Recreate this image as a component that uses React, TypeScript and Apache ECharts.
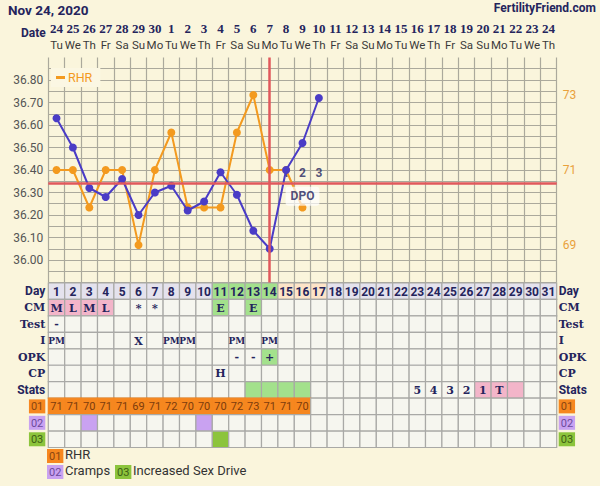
import React, { useEffect, useRef } from 'react';
import * as echarts from 'echarts';

const NAVY = '#24245c';
const BG = '#faf5dc';
const GRID = '#aba99c';
const PURPLE = '#4a3cc6';
const ORANGE = '#f39a1f';
const RED = '#e0585c';

const dayCategories = ['1','2','3','4','5','6','7','8','9','10','11','12','13','14','15','16','17','18','19','20','21','22','23','24','25','26','27','28','29','30','31'];
const dateLabels = ['24','25','26','27','28','29','30','1','2','3','4','5','6','7','8','9','10','11','12','13','14','15','16','17','18','19','20','21','22','23','24'];
const weekdayLabels = ['Tu','We','Th','Fr','Sa','Su','Mo','Tu','We','Th','Fr','Sa','Su','Mo','Tu','We','Th','Fr','Sa','Su','Mo','Tu','We','Th','Fr','Sa','Su','Mo','Tu','We','Th'];

const temps = [36.63, 36.50, 36.32, 36.28, 36.36, 36.20, 36.30, 36.33, 36.22, 36.26, 36.39, 36.29, 36.13, 36.05, 36.40, 36.52, 36.72];
const rhr = [71, 71, 70, 71, 71, 69, 71, 72, 70, 70, 70, 72, 73, 71, 71, 70];
const coverline = 36.34;
const ovulationDay = '14';
const dpoDays = ['15', '16', '17'];
const dpoNumbers = ['1', '2', '3'];
const dpoNumberLevel = 36.387;
const dpoTextDay = '16';
const dpoTextLevel = 36.283;

const rowNames = ['Day', 'CM', 'Test', 'I', 'OPK', 'CP', 'Stats', '01', '02', '03'];
const cmMarks: [number, string][] = [[1, 'M'], [2, 'L'], [3, 'M'], [4, 'L'], [6, '*'], [7, '*'], [11, 'E'], [13, 'E']];
const testMarks: [number, string][] = [[1, '-']];
const intercourseMarks: [number, string][] = [[1, 'PM'], [6, 'X'], [8, 'PM'], [9, 'PM'], [12, 'PM'], [14, 'PM']];
const opkMarks: [number, string][] = [[12, '-'], [13, '-'], [14, '+']];
const cpMarks: [number, string][] = [[11, 'H']];
const statsMarks: [number, string][] = [[23, '5'], [24, '4'], [25, '3'], [26, '2'], [27, '1'], [28, 'T']];

const dayRowGreen = [11, 12, 13, 14];
const dayRowPeach = [15, 16, 17];
const cmPink = [1, 2, 3, 4];
const cmGreen = [11, 13];
const opkGreen = [14];
const statsGreen = [13, 14, 15, 16];
const statsPink = [27, 28, 29];
const crampsDays = [3, 10];
const sexDriveDays = [11];

const C = {
  cell: '#f6f6ef',
  dayRow: '#e4e2ed',
  green: '#a3e18c',
  peach: '#fde4c8',
  pink: '#f3b5c9',
  orange: '#f6871f',
  purple: '#c9a2f1',
  green3: '#8cc43c',
  stroke: '#a9a9a6',
};

type Cell = { d: number; r: number; text: string; fill: string; stroke: string; font: string; color: string };

function buildCells(): Cell[] {
  const cells: Cell[] = [];
  const lookup = (marks: [number, string][], d: number) => {
    const m = marks.find((x) => x[0] === d);
    return m ? m[1] : '';
  };
  for (let r = 0; r < rowNames.length; r++) {
    for (let d = 1; d <= 31; d++) {
      let text = '';
      let fill = C.cell;
      let stroke = C.stroke;
      let color = NAVY;
      let font = '';
      if (r === 0) {
        text = dayCategories[d - 1];
        fill = dayRowGreen.includes(d) ? C.green : dayRowPeach.includes(d) ? C.peach : C.dayRow;
        font = 'bold 12px Roboto';
      } else if (r === 1) {
        text = lookup(cmMarks, d);
        fill = cmPink.includes(d) ? C.pink : cmGreen.includes(d) ? C.green : C.cell;
      } else if (r === 2) {
        text = lookup(testMarks, d);
      } else if (r === 3) {
        text = lookup(intercourseMarks, d);
      } else if (r === 4) {
        text = lookup(opkMarks, d);
        if (opkGreen.includes(d)) fill = C.green;
      } else if (r === 5) {
        text = lookup(cpMarks, d);
      } else if (r === 6) {
        text = lookup(statsMarks, d);
        fill = statsGreen.includes(d) ? C.green : statsPink.includes(d) ? C.pink : C.cell;
      } else if (r === 7) {
        const v = rhr[d - 1];
        if (v != null) {
          text = String(v);
          fill = C.orange;
          stroke = C.orange;
        }
        font = '11px Roboto';
        color = '#7d3c0c';
      } else if (r === 8) {
        if (crampsDays.includes(d)) fill = C.purple;
      } else if (r === 9) {
        if (sexDriveDays.includes(d)) fill = C.green3;
      }
      if (!font) font = text.length > 1 ? 'bold 9px "DejaVu Serif"' : 'bold 11px "DejaVu Serif"';
      cells.push({ d, r, text, fill, stroke, font, color });
    }
  }
  return cells;
}

export default function App() {
  const ref = useRef<HTMLDivElement>(null);
  useEffect(() => {
    document.body.style.margin = '0';
    document.body.style.background = BG;
    if (!ref.current) return;
    const chart = echarts.init(ref.current, undefined, { renderer: 'svg' });
    const cells = buildCells();

    const rowLabel = {
      formatter: (v: string) => {
        if (v === '01') return '{o|01}';
        if (v === '02') return '{p|02}';
        if (v === '03') return '{g|03}';
        if (v === 'Day' || v === 'Stats') return '{s|' + v + '}';
        return '{f|' + v + '}';
      },
      rich: {
        s: { fontFamily: 'Roboto', fontWeight: 'bold', fontSize: 12, color: NAVY },
        f: { fontFamily: 'DejaVu Serif', fontWeight: 'bold', fontSize: 11, color: NAVY },
        o: { fontFamily: 'Roboto', fontSize: 11, color: '#8a4510', backgroundColor: C.orange, padding: [2, 2, 1, 2] },
        p: { fontFamily: 'Roboto', fontSize: 11, color: '#6c4a9c', backgroundColor: C.purple, padding: [2, 2, 1, 2] },
        g: { fontFamily: 'Roboto', fontSize: 11, color: '#3e5e14', backgroundColor: C.green3, padding: [2, 2, 1, 2] },
      },
    };

    const option: any = {
      animation: false,
      backgroundColor: BG,
      title: [
        { text: 'Nov 24, 2020', left: 8, top: 3, padding: 0, textStyle: { fontFamily: 'Roboto', fontWeight: 'bold', fontSize: 13.5, color: NAVY } },
        { text: 'FertilityFriend.com', right: 4, top: 2, padding: 0, textStyle: { fontFamily: 'Roboto', fontWeight: 'bold', fontSize: 12, color: NAVY } },
      ],
      legend: {
        data: [{ name: 'RHR', icon: 'rect' }],
        left: 51,
        top: 68,
        itemWidth: 9,
        itemHeight: 3,
        itemGap: 4,
        padding: [3, 8, 3, 5],
        backgroundColor: '#fbf7e3',
        textStyle: { color: ORANGE, fontSize: 12.5, fontFamily: 'Roboto', padding: [0, 0, 0, -2] },
      },
      grid: [
        { left: 48.3, top: 57.5, width: 508.4, height: 225 },
        { left: 48.3, top: 283, width: 508.4, height: 164.5 },
      ],
      xAxis: [
        {
          type: 'category',
          gridIndex: 0,
          position: 'top',
          data: dayCategories,
          boundaryGap: true,
          axisLine: { show: false },
          axisTick: { show: false },
          splitLine: { show: true, interval: 0, lineStyle: { color: GRID, width: 1.2 } },
          axisLabel: {
            interval: 0,
            margin: 5,
            formatter: (_v: string, i: number) => '{d|' + dateLabels[i] + '}\n{w|' + weekdayLabels[i] + '}',
            rich: {
              d: { fontFamily: 'Liberation Serif', fontWeight: 'bold', fontSize: 13, color: NAVY, lineHeight: 16 },
              w: { fontFamily: 'Roboto', fontSize: 11.5, color: '#3a3a3a', lineHeight: 16 },
            },
          },
        },
        { type: 'category', gridIndex: 1, data: dayCategories, show: false },
      ],
      yAxis: [
        {
          type: 'value',
          gridIndex: 0,
          min: 35.9,
          max: 36.9,
          interval: 0.05,
          axisLine: { show: false },
          axisTick: { show: false },
          splitLine: { show: true, showMaxLine: false, lineStyle: { color: GRID, width: 1.2 } },
          axisLabel: {
            margin: 5,
            color: '#555',
            fontFamily: 'Roboto',
            fontSize: 12,
            formatter: (v: number) => {
              const h = Math.round(v * 100);
              if (h % 10 !== 0 || h < 3600 || h > 3680) return '';
              return (h / 100).toFixed(2);
            },
          },
        },
        {
          type: 'value',
          gridIndex: 0,
          position: 'right',
          min: 68,
          max: 74,
          interval: 1,
          axisLine: { show: false },
          axisTick: { show: false },
          splitLine: { show: false },
          axisLabel: {
            margin: 6,
            color: '#e9a13b',
            fontFamily: 'Roboto',
            fontSize: 12,
            formatter: (v: number) => (Math.round(v) % 2 === 1 ? String(Math.round(v)) : ''),
          },
        },
        {
          type: 'category',
          gridIndex: 1,
          position: 'left',
          data: rowNames,
          inverse: true,
          axisLine: { show: false },
          axisTick: { show: false },
          axisLabel: { margin: 3, interval: 0, ...rowLabel },
        },
        {
          type: 'category',
          gridIndex: 1,
          position: 'right',
          data: rowNames,
          inverse: true,
          axisLine: { show: false },
          axisTick: { show: false },
          axisLabel: { margin: 2, interval: 0, ...rowLabel },
        },
      ],
      series: [
        {
          name: 'lines',
          type: 'line',
          xAxisIndex: 0,
          yAxisIndex: 0,
          data: [],
          z: 1,
          markLine: {
            silent: true,
            symbol: 'none',
            label: { show: false },
            lineStyle: { color: RED, width: 2.5, type: 'solid' },
            data: [{ yAxis: coverline }, { xAxis: ovulationDay }],
          },
        },
        {
          name: 'dpoNumbers',
          type: 'scatter',
          xAxisIndex: 0,
          yAxisIndex: 0,
          symbolSize: 0,
          z: 2,
          data: dpoDays.map((d, i) => ({ value: [d, dpoNumberLevel], name: dpoNumbers[i] })),
          label: {
            show: true,
            position: 'inside',
            formatter: (p: any) => p.name,
            fontFamily: 'Roboto',
            fontWeight: 'bold',
            fontSize: 12,
            color: NAVY,
          },
        },
        {
          name: 'RHR',
          type: 'line',
          xAxisIndex: 0,
          yAxisIndex: 1,
          data: rhr,
          z: 3,
          color: ORANGE,
          symbol: 'circle',
          symbolSize: 8,
          lineStyle: { width: 2, color: ORANGE },
          itemStyle: { color: ORANGE },
        },
        {
          name: 'Temp',
          type: 'line',
          xAxisIndex: 0,
          yAxisIndex: 0,
          data: temps,
          z: 4,
          symbol: 'circle',
          symbolSize: 8,
          lineStyle: { width: 2, color: PURPLE },
          itemStyle: { color: PURPLE },
        },
        {
          name: 'dpoText',
          type: 'scatter',
          xAxisIndex: 0,
          yAxisIndex: 0,
          symbolSize: 0,
          z: 10,
          data: [{ value: [dpoTextDay, dpoTextLevel], name: 'DPO' }],
          label: {
            show: true,
            position: 'inside',
            formatter: (p: any) => p.name,
            fontFamily: 'Roboto',
            fontWeight: 'bold',
            fontSize: 12,
            color: NAVY,
            backgroundColor: 'rgba(255,255,255,0.85)',
            padding: [4, 5, 3, 5],
            borderRadius: 3,
          },
        },
        {
          name: 'table',
          type: 'custom',
          xAxisIndex: 1,
          yAxisIndex: 2,
          silent: true,
          clip: false,
          z: 1,
          encode: { x: 0, y: 1 },
          data: cells.map((c) => [c.d - 1, c.r]),
          renderItem: (params: any, api: any) => {
            const c = cells[params.dataIndex];
            const p = api.coord([api.value(0), api.value(1)]);
            const s = api.size([1, 1]);
            return {
              type: 'group',
              children: [
                {
                  type: 'rect',
                  shape: { x: p[0] - s[0] / 2, y: p[1] - s[1] / 2, width: s[0], height: s[1] },
                  style: { fill: c.fill, stroke: c.stroke, lineWidth: 1.2 },
                },
                {
                  type: 'text',
                  x: p[0],
                  y: p[1] + 0.5,
                  style: { text: c.text, align: 'center', verticalAlign: 'middle', font: c.font, fill: c.color },
                },
              ],
            };
          },
        },
      ],
      graphic: [
        { type: 'text', left: 21, top: 27, style: { text: 'Date', font: 'bold 12px Roboto', fill: NAVY } },
        { type: 'text', left: 47, top: 449, style: { text: '01', font: '11px Roboto', fill: '#8a4510', backgroundColor: C.orange, padding: [2, 2, 1, 2] } },
        { type: 'text', left: 65, top: 448, style: { text: 'RHR', font: '13px Roboto', fill: '#333' } },
        { type: 'text', left: 47, top: 465, style: { text: '02', font: '11px Roboto', fill: '#6c4a9c', backgroundColor: C.purple, padding: [2, 2, 1, 2] } },
        { type: 'text', left: 65, top: 464, style: { text: 'Cramps', font: '13px Roboto', fill: '#333' } },
        { type: 'text', left: 115, top: 465, style: { text: '03', font: '11px Roboto', fill: '#3e5e14', backgroundColor: C.green3, padding: [2, 2, 1, 2] } },
        { type: 'text', left: 133, top: 464, style: { text: 'Increased Sex Drive', font: '13px Roboto', fill: '#333' } },
      ],
    };
    chart.setOption(option);
    return () => chart.dispose();
  }, []);
  return <div ref={ref} style={{ width: 600, height: 486, background: BG }} />;
}
